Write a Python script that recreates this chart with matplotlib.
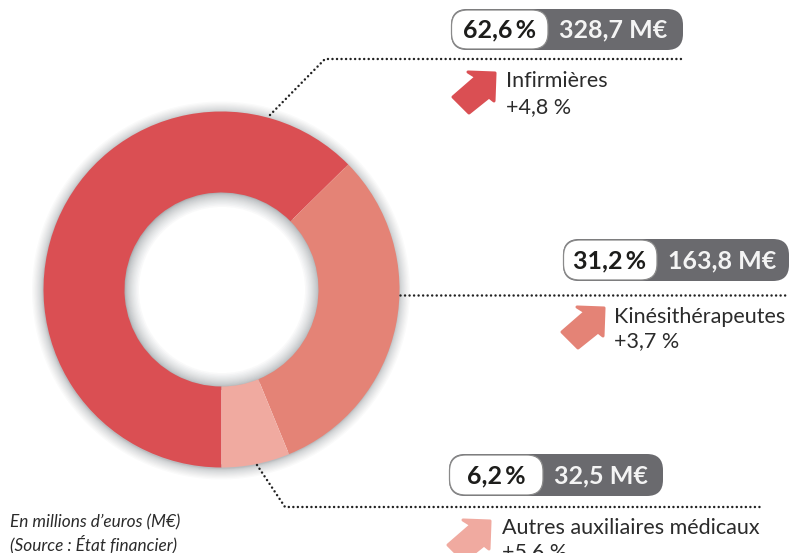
import matplotlib.pyplot as plt
from matplotlib.patches import FancyBboxPatch, Polygon, Wedge

W, H = 789, 553

categories = ['Infirmières', 'Kinésithérapeutes', 'Autres auxiliaires médicaux']
amounts = [328.7, 163.8, 32.5]
shares = ['62,6\u2009%', '31,2\u2009%', '6,2\u2009%']
amount_labels = ['328,7 M€', '163,8 M€', '32,5 M€']
changes = ['+4,8 %', '+3,7 %', '+5,6 %']
colors = ['#DA4F53', '#E48376', '#F0AAA0']

plt.rcParams['font.family'] = ['Lato', 'DejaVu Sans']


def py(y):
    # picture coordinates have y going down
    return H - y


fig = plt.figure(figsize=(W / 100, H / 100), dpi=100)
ax = fig.add_axes([0, 0, 1, 1])

cx, cy, r_out, r_in = 221.5, 289.5, 178, 97

ax.pie(amounts, colors=colors, startangle=270, counterclock=False, center=(cx, py(cy)),
       radius=r_out, wedgeprops=dict(width=r_out - r_in, linewidth=0), frame=False)
for w in ax.patches:
    w.set_zorder(2)

# soft shadows, outside the ring and inside the hole (the ring covers the overflow)
for j in range(1, 17):
    k = 11 * (j / 16) ** 2
    ax.add_patch(Wedge((cx - 0.5, py(cy + 1)), r_out + k, 0, 360, width=k + 4,
                       color='#50585f', alpha=0.028, lw=0, zorder=1))
for j in range(1, 19):
    k = 14 * (j / 18) ** 2
    ax.add_patch(Wedge((cx + 0.5, py(cy + 0.5)), r_in + 3, 0, 360, width=k + 3,
                       color='#50585f', alpha=0.032, lw=0, zorder=1))

ax.set_xlim(0, W)
ax.set_ylim(0, H)
ax.set_aspect('auto')
ax.axis('off')

leaders = [
    ([270, 325, 684], [115, 59, 59]),
    ([400, 789], [295, 295]),
    ([257, 285, 762], [465, 507, 507]),
]
for xs, ys in leaders:
    ax.plot(xs, [py(y) for y in ys], color='#222222', lw=1.8, dashes=(0.01, 1.8),
            dash_capstyle='round', zorder=3)

pills = [(451, 9, 683, 50, 548), (563, 239, 789, 281, 657), (449, 454, 663, 496, 543)]
text_pos = [(506, 80, 107), (614, 316, 341), (502, 527, 552)]
arrow_tip = [(495, 72), (604, 307), (490, 520)]
arrow_shape = [(0, 1), (-27, 0), (-19, 5), (-42, 25), (-26, 41), (-6, 25), (-1, 29)]

for i in range(3):
    x0, y0, x1, y1, xm = pills[i]
    h = y1 - y0
    ax.add_patch(FancyBboxPatch((x0, py(y1)), x1 - x0, h, boxstyle='round,pad=0,rounding_size=16',
                                fc='#6A6A6E', ec='none', zorder=4))
    ax.add_patch(FancyBboxPatch((x0 + 0.5, py(y1 - 1)), xm - x0 - 0.5, h - 2,
                                boxstyle='round,pad=0,rounding_size=16',
                                fc='white', ec='#8a8a8a', lw=0.9, zorder=5))
    ax.text((x0 + xm) / 2, py((y0 + y1) / 2 + 0.5), shares[i], ha='center', va='center',
            fontsize=18, fontweight='bold', color='#1d1d1b', zorder=6)
    ax.text(xm + 11, py((y0 + y1) / 2 + 0.5), amount_labels[i], ha='left', va='center',
            fontsize=18, fontweight='bold', color='#f4f4f4', zorder=6)

    tx, ty1, ty2 = text_pos[i]
    ax.text(tx, py(ty1 + 1), categories[i], ha='left', va='center', fontsize=15.5, color='#2b2b2b', zorder=6)
    ax.text(tx, py(ty2), changes[i], ha='left', va='center', fontsize=15.5, color='#2b2b2b', zorder=6)

    ax_, ay_ = arrow_tip[i]
    ax.add_patch(Polygon([(ax_ + dx, py(ay_ + dy)) for dx, dy in arrow_shape], closed=True,
                         fc=colors[i], ec=colors[i], lw=2.2, joinstyle='round', zorder=3))

ax.text(10, py(522), 'En millions d’euros (M€)', fontsize=12.4, style='italic', va='center', color='#2b2b2b')
ax.text(10, py(544), '(Source : État financier)', fontsize=12.4, style='italic', va='center', color='#2b2b2b')

fig.savefig('out.png', dpi=100)
